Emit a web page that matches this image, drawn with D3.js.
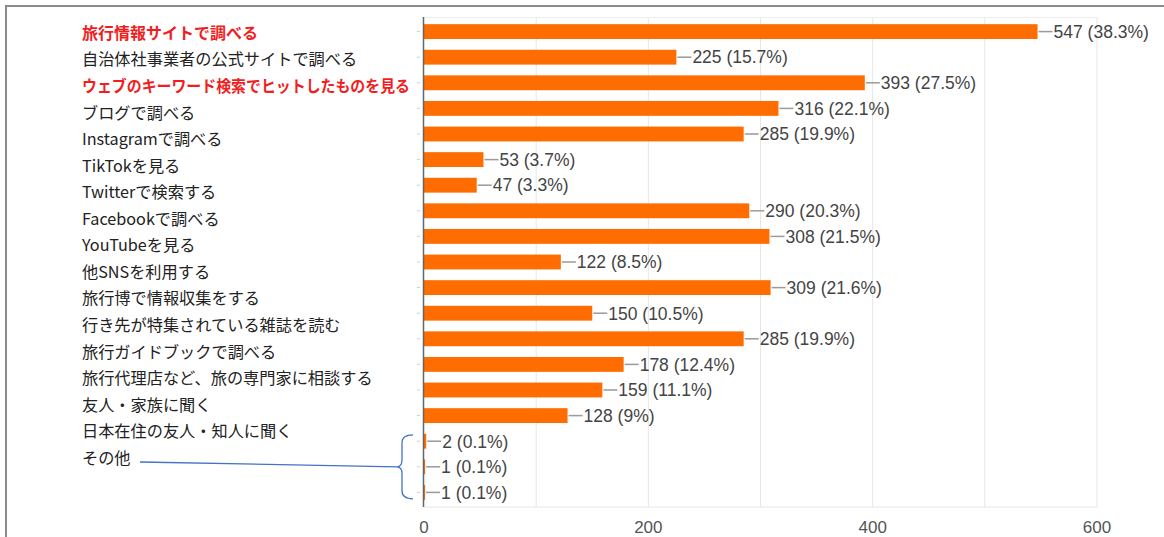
<!DOCTYPE html>
<html><head><meta charset="utf-8">
<script src="https://cdn.jsdelivr.net/npm/d3@7"></script>
<style>html,body{margin:0;padding:0;background:#fff;overflow:hidden}</style>
</head><body>
<svg id="chart" width="1164" height="537"></svg>
<script>
const labels = ["旅行情報サイトで調べる","自治体社事業者の公式サイトで調べる","ウェブのキーワード検索でヒットしたものを見る","ブログで調べる","Instagramで調べる","TikTokを見る","Twitterで検索する","Facebookで調べる","YouTubeを見る","他SNSを利用する","旅行博で情報収集をする","行き先が特集されている雑誌を読む","旅行ガイドブックで調べる","旅行代理店など、旅の専門家に相談する","友人・家族に聞く","日本在住の友人・知人に聞く","その他"];
const highlighted = ["旅行情報サイトで調べる","ウェブのキーワード検索でヒットしたものを見る"];
const values = [547,225,393,316,285,53,47,290,308,122,309,150,285,178,159,128,2,1,1];
const percents = [38.3,15.7,27.5,22.1,19.9,3.7,3.3,20.3,21.5,8.5,21.6,10.5,19.9,12.4,11.1,9,0.1,0.1,0.1];
const xTicks = [0,200,400,600];
const gridTicks = [100,200,300,400,500,600];

const svg = d3.select("#chart");
const x = d3.scaleLinear().domain([0,600]).range([424,1097]);
const y = d3.scaleBand().domain(d3.range(values.length)).range([17,507]).paddingInner(0.42).paddingOuter(0.28);
const yl = d3.scalePoint().domain(labels).range([33,458]);
// rendered widths of highlighted labels (layout only)
const fitWidth = {"旅行情報サイトで調べる":176, "ウェブのキーワード検索でヒットしたものを見る":328};

// outer frame
svg.append("path").attr("d","M6,540 L6,6 L1170,6").attr("fill","none").attr("stroke","#8a8a8a").attr("stroke-width",2);

// plot border + grid
svg.append("g").selectAll("line").data(gridTicks).join("line")
  .attr("x1",d=>x(d)).attr("x2",d=>x(d)).attr("y1",17).attr("y2",507)
  .attr("stroke","#e6e6e6").attr("stroke-width",1);
svg.append("line").attr("x1",x(0)).attr("x2",x(600)).attr("y1",17.5).attr("y2",17.5).attr("stroke","#ededed");
svg.append("line").attr("x1",x(0)).attr("x2",x(600)).attr("y1",507).attr("y2",507).attr("stroke","#e6e6e6");

// faint y ticks
svg.append("g").selectAll("line").data(d3.range(values.length)).join("line")
  .attr("x1",417).attr("x2",420).attr("y1",i=>y(i)+y.bandwidth()/2).attr("y2",i=>y(i)+y.bandwidth()/2)
  .attr("stroke","#d0d0d0");

// bars
svg.append("g").selectAll("rect").data(values).join("rect")
  .attr("x",x(0)).attr("y",(d,i)=>y(i)).attr("width",d=>x(d)-x(0)).attr("height",y.bandwidth())
  .attr("fill","#ff6d00");

// axis line
svg.append("line").attr("x1",423.5).attr("x2",423.5).attr("y1",17).attr("y2",507).attr("stroke","#666").attr("stroke-width",1.5);

// value labels
const vg = svg.append("g");
values.forEach((v,i)=>{
  const cy = y(i)+y.bandwidth()/2;
  vg.append("line").attr("x1",x(v)+1).attr("x2",x(v)+15).attr("y1",cy).attr("y2",cy).attr("stroke","#9a9a9a").attr("stroke-width",1.5);
  vg.append("text").attr("x",x(v)+16).attr("y",cy).attr("dy","0.36em")
    .attr("font-family","Liberation Sans, Arial, sans-serif").attr("font-size",17.5).attr("fill","#444")
    .text(`${v} (${percents[i]}%)`);
});

// x tick labels
svg.append("g").selectAll("text").data(xTicks).join("text")
  .attr("x",d=>x(d)).attr("y",527).attr("dy","0.36em").attr("text-anchor","middle")
  .attr("font-family","Liberation Sans, Arial, sans-serif").attr("font-size",17).attr("fill","#555")
  .text(d=>d);

// category labels
svg.append("g").selectAll("text").data(labels).join("text")
  .attr("x",82).attr("y",d=>yl(d)).attr("dy","0.36em")
  .attr("font-family","'Noto Sans CJK JP', sans-serif").attr("font-size",16.2)
  .attr("font-weight",d=>highlighted.includes(d)?"bold":"normal")
  .attr("fill",d=>highlighted.includes(d)?"#f01e1e":"#222")
  .each(function(d){ if(fitWidth[d]) d3.select(this).attr("textLength",fitWidth[d]).attr("lengthAdjust","spacingAndGlyphs"); })
  .text(d=>d);

// bracket for その他
const b0 = y(16)+1, b1 = y(18)+y.bandwidth()-1, bm = (b0+b1)/2;
svg.append("path")
  .attr("d",`M413,${b0} Q402,${b0} 402,${b0+8} L402,${bm-7} Q402,${bm} 397,${bm} Q402,${bm} 402,${bm+7} L402,${b1-8} Q402,${b1} 413,${b1}`)
  .attr("fill","none").attr("stroke","#4472c4").attr("stroke-width",1.3);
svg.append("line").attr("x1",140).attr("y1",yl("その他")+4).attr("x2",397).attr("y2",bm)
  .attr("stroke","#4472c4").attr("stroke-width",1.3);
</script>
</body></html>
